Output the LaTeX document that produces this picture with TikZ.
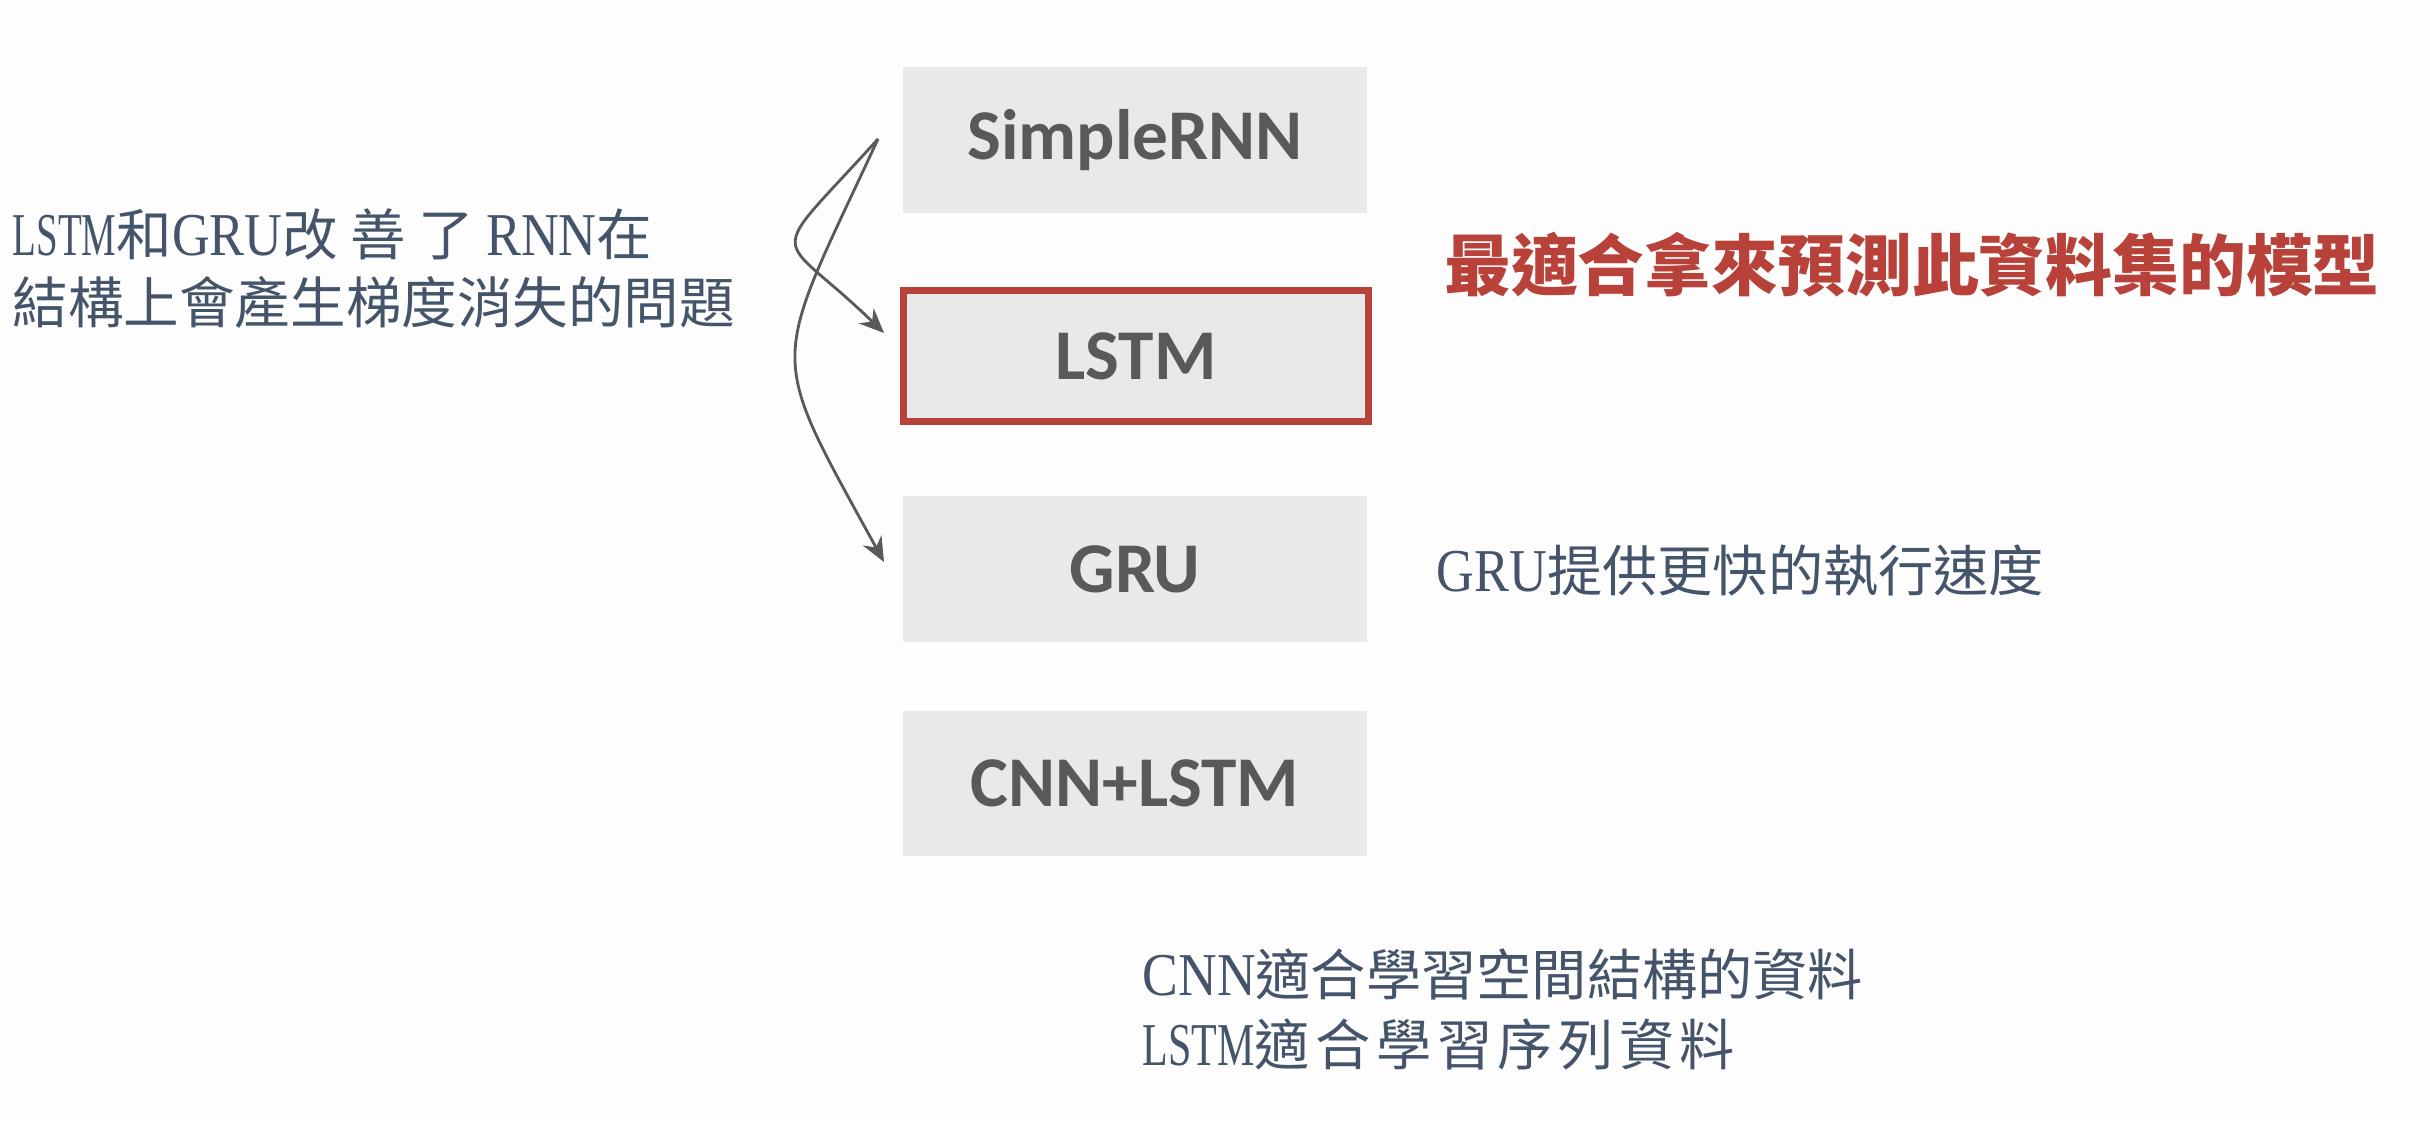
\documentclass[tikz,border=0pt]{standalone}
\usepackage{fontspec}
\setmainfont{Liberation Serif}
\newfontfamily\cjk{Noto Sans CJK TC}
\newfontfamily\boxfont{Carlito}
\usetikzlibrary{arrows.meta}
\definecolor{bg}{HTML}{FDFDFD}
\definecolor{boxgray}{HTML}{E8E9E9}
\definecolor{boxtext}{HTML}{595959}
\definecolor{slate}{HTML}{44546A}
\definecolor{redc}{HTML}{B8423A}
\newcommand\lat[2]{\scalebox{#1}[1]{\fontsize{17.3}{20}\rmfamily\selectfont #2}}
\newcommand\gp[1]{\hspace{#1pt}}
\begin{document}
\begin{tikzpicture}[x=0.01cm,y=-0.01cm,
  modelbox/.style={fill=boxgray, minimum width=4.64cm, minimum height=1.45cm, inner sep=0pt,
    text=boxtext, font=\boxfont\bfseries\fontsize{20.3}{24}\selectfont},
  conn/.style={draw=boxtext, line width=0.8pt, -{Stealth[length=7pt,width=6pt]}},
  note/.style={text=slate, align=left, inner sep=0pt}
]
\fill[bg] (0,0) rectangle (2430,1120);
\useasboundingbox (0,0) rectangle (2430,1120);

\node[modelbox] (rnn) at (1135,140) {SimpleRNN};
\node[modelbox, draw=redc, line width=2pt, minimum width=4.65cm, minimum height=1.31cm] (lstm) at (1136,356) {LSTM};
\node[modelbox] (gru) at (1135,569) {GRU};
\node[modelbox] (cnn) at (1135,783.5) {CNN+LSTM};

\node[note, anchor=west, font=\cjk\fontsize{15.8}{19.3}\selectfont] (lefttxt) at (12,269)
  {\lat{0.64}{LSTM}和\lat{0.86}{GRU}改\gp{3.5}善\gp{3.5}了\gp{3.5}\lat{0.86}{RNN}在\\結構上會產生梯度消失的問題};

\node[text=redc, inner sep=0pt, font=\cjk\bfseries\fontsize{19}{23}\selectfont] (title) at (1912,265)
  {最適合拿來預測此資料集的模型};

\node[note, anchor=west, font=\cjk\fontsize{15.7}{20}\selectfont] (grunote) at (1436,571)
  {\lat{0.86}{GRU}提供更快的執行速度};

\node[note, anchor=west, font=\cjk\fontsize{15.7}{19.9}\selectfont] (cnnnote) at (1142,1009)
  {\lat{0.88}{CNN}適合學習空間結構的資料\\\lat{0.69}{LSTM}適\gp{1.6}合\gp{1.6}學\gp{1.6}習\gp{1.6}序\gp{1.6}列\gp{1.6}資\gp{1.2}料};

\coordinate (s) at (878,139);
\coordinate (t1) at (884,333);
\coordinate (t2) at (884,562);
\draw[conn] (s) .. controls (762,267) and (775,227) .. (t1);
\draw[conn] (s) .. controls (770,372) and (765,345) .. (t2);
\end{tikzpicture}
\end{document}
